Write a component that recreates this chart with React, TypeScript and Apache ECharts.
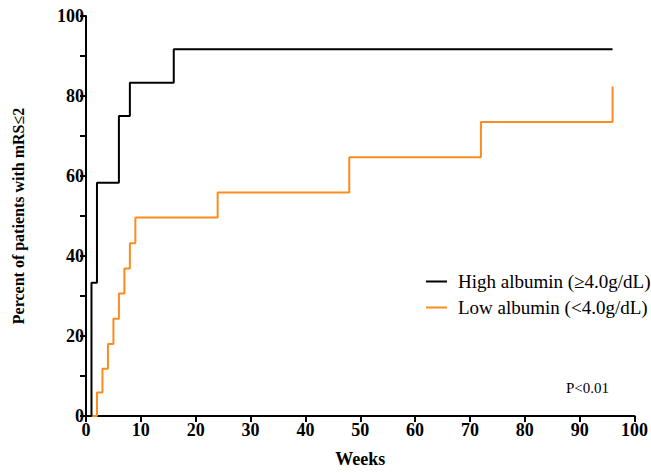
import React, { useEffect, useRef } from "react";
import * as echarts from "echarts";

const highWeeks = [0, 1, 2, 6, 8, 16, 96];
const highValues = [0, 33.3, 58.3, 75, 83.3, 91.7, 91.7];
const lowWeeks = [0, 2, 3, 4, 5, 6, 7, 8, 9, 24, 48, 72, 96];
const lowValues = [0, 5.9, 11.8, 18.0, 24.3, 30.6, 36.9, 43.2, 49.6, 55.9, 64.7, 73.5, 82.4];
const seriesNames = ["High albumin (≥4.0g/dL)", "Low albumin (<4.0g/dL)"];
const pText = "P<0.01";

const FONT = "Liberation Serif";

export default function App() {
  const ref = useRef<HTMLDivElement>(null);
  useEffect(() => {
    if (!ref.current) return;
    const chart = echarts.init(ref.current, null, { renderer: "svg" });
    chart.setOption({
      animation: false,
      backgroundColor: "#fff",
      grid: { left: 86, right: 12, top: 16, bottom: 52, containLabel: false },
      legend: {
        orient: "vertical",
        left: 421,
        top: 267,
        icon: "rect",
        itemWidth: 21,
        itemHeight: 2,
        itemGap: 7,
        textStyle: { fontFamily: FONT, fontSize: 19, color: "#000", padding: [0, 0, 0, 6] },
        data: seriesNames,
      },
      xAxis: {
        type: "value",
        min: 0,
        max: 100,
        interval: 10,
        name: "Weeks",
        nameLocation: "middle",
        nameGap: 34,
        nameTextStyle: { fontFamily: FONT, fontSize: 18, fontWeight: "bold", color: "#000" },
        axisLine: { show: true, onZero: false, lineStyle: { color: "#000", width: 2 } },
        axisTick: { show: true, length: 6, lineStyle: { color: "#000", width: 2 } },
        axisLabel: { fontFamily: FONT, fontSize: 18, fontWeight: "bold", color: "#000", margin: 5 },
        splitLine: { show: false },
      },
      yAxis: {
        type: "value",
        min: 0,
        max: 100,
        interval: 20,
        name: "Percent of patients with mRS≤2",
        nameLocation: "middle",
        nameGap: 60,
        nameTextStyle: { fontFamily: FONT, fontSize: 16, fontWeight: "bold", color: "#000" },
        axisLine: { show: true, lineStyle: { color: "#000", width: 2 } },
        axisTick: { show: true, length: 6, lineStyle: { color: "#000", width: 2 } },
        minorTick: { show: true, splitNumber: 2, length: 6, lineStyle: { color: "#000", width: 2 } },
        axisLabel: { fontFamily: FONT, fontSize: 18, fontWeight: "bold", color: "#000", margin: 2 },
        splitLine: { show: false },
      },
      series: [
        {
          name: seriesNames[0],
          type: "line",
          step: "end",
          symbol: "none",
          color: "#000",
          lineStyle: { color: "#000", width: 2 },
          data: highWeeks.map((w, i) => [w, highValues[i]]),
          z: 3,
        },
        {
          name: seriesNames[1],
          type: "line",
          step: "end",
          symbol: "none",
          color: "#fb8c1e",
          lineStyle: { color: "#fb8c1e", width: 2 },
          data: lowWeeks.map((w, i) => [w, lowValues[i]]),
          z: 2,
        },
      ],
      graphic: [
        {
          type: "text",
          left: 566,
          top: 380,
          style: { text: pText, font: `15px ${FONT}`, fill: "#000" },
        },
      ],
    });
    return () => chart.dispose();
  }, []);
  return (
    <div
      ref={ref}
      style={{ position: "absolute", left: 0, top: 0, width: 651, height: 473 }}
    />
  );
}
